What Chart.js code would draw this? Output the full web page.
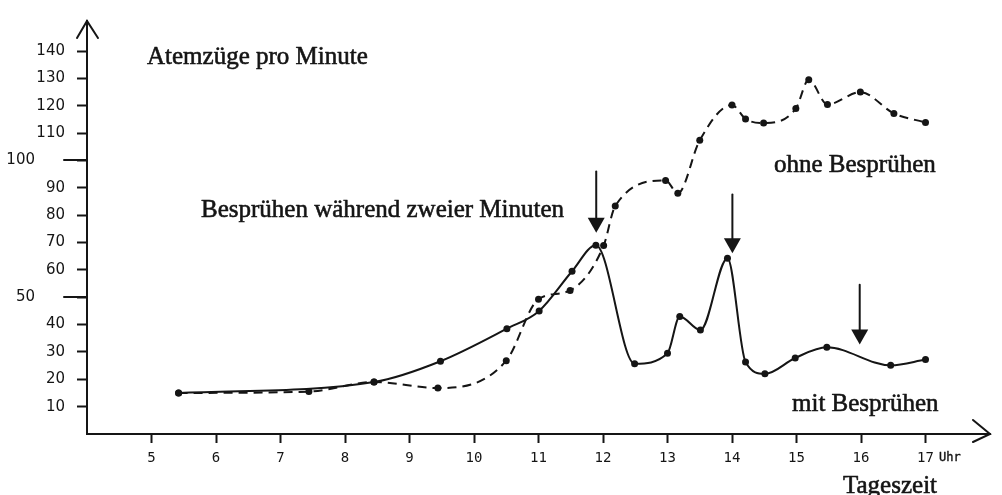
<!DOCTYPE html>
<html>
<head>
<meta charset="utf-8">
<script src="https://cdn.jsdelivr.net/npm/chart.js@4.4.1/dist/chart.umd.min.js"></script>
<style>
  html, body { margin: 0; padding: 0; background: #ffffff; }
  #wrap { width: 1002px; height: 495px; position: relative; }
</style>
</head>
<body>
<div id="wrap"><canvas id="c" width="1002" height="495"></canvas></div>
<script>
// ---- data ----
const xTickValues = [5, 6, 7, 8, 9, 10, 11, 12, 13, 14, 15, 16, 17];
const yTickValues = [10, 20, 30, 40, 50, 60, 70, 80, 90, 100, 110, 120, 130, 140];

const mitHours  = [5.42, 8.45, 9.48, 10.51, 11.01, 11.52, 11.89, 12.49, 13.0, 13.19, 13.51, 13.93, 14.21, 14.51, 14.98, 15.47, 16.46, 17.0];
const mitValues = [15, 19, 26.6, 38.5, 45, 59.5, 69, 25.7, 29.5, 43, 38, 64.3, 26.3, 22, 27.8, 31.7, 25.1, 27.2];

const ohneHours  = [5.42, 7.44, 8.45, 9.44, 10.5, 11.0, 11.49, 12.01, 12.19, 12.97, 13.16, 13.5, 14.0, 14.21, 14.49, 14.99, 15.19, 15.48, 15.99, 16.51, 17.0];
const ohneValues = [15, 15.5, 19, 16.8, 26.8, 49.3, 52.5, 68.9, 83.4, 92.7, 88, 107.4, 120.3, 115.2, 113.7, 119, 129.5, 120.5, 125, 117.2, 113.9];

// arrows: [hour, top value, tip value]
const sprayArrows = [[11.895, 96, 73.6], [14.006, 87.6, 66.1], [15.98, 54.6, 32.7]];

const INK = '#151515';
const toPts = (xs, ys) => xs.map((x, i) => ({ x: x, y: ys[i] }));

const decor = {
  id: 'decor',
  afterDraw(chart) {
    const ctx = chart.ctx;
    const xs = chart.scales.x, ys = chart.scales.y;
    const area = chart.chartArea;
    ctx.save();
    ctx.strokeStyle = INK;
    ctx.fillStyle = INK;
    ctx.lineWidth = 2;
    ctx.lineCap = 'round';

    // y axis arrow head
    const ax = area.left, ay = area.top;
    ctx.beginPath();
    ctx.moveTo(ax - 10, ay + 17); ctx.lineTo(ax, ay); ctx.lineTo(ax + 11, ay + 17);
    ctx.stroke();
    // x axis arrow head
    const bx = area.right, by = area.bottom;
    ctx.beginPath();
    ctx.moveTo(bx - 17, by - 14); ctx.lineTo(bx, by); ctx.lineTo(bx - 17, by + 8);
    ctx.stroke();

    // long ticks at 50 and 100
    [50, 100].forEach(v => {
      const py = Math.round(ys.getPixelForValue(v));
      ctx.beginPath();
      ctx.moveTo(area.left - 23, py); ctx.lineTo(area.left, py);
      ctx.stroke();
    });

    // arrows
    sprayArrows.forEach(a => {
      const px = xs.getPixelForValue(a[0]);
      const top = ys.getPixelForValue(a[1]);
      const tip = ys.getPixelForValue(a[2]);
      ctx.lineWidth = 2;
      ctx.beginPath();
      ctx.moveTo(px, top); ctx.lineTo(px, tip - 12);
      ctx.stroke();
      ctx.beginPath();
      ctx.moveTo(px - 8.5, tip - 15); ctx.lineTo(px + 8.5, tip - 15); ctx.lineTo(px, tip);
      ctx.closePath();
      ctx.fill();
    });

    // texts (slightly thickened like the scanned print)
    ctx.textAlign = 'left';
    ctx.textBaseline = 'alphabetic';
    ctx.font = '25px "Liberation Serif", "Times New Roman", serif';
    ctx.lineWidth = 0.6;
    ctx.lineJoin = 'round';
    const txt = (s, x, y) => { ctx.fillText(s, x, y); ctx.strokeText(s, x, y); };
    txt('Atemzüge pro Minute', 147, 64);
    txt('Besprühen während zweier Minuten', 201, 217);
    txt('ohne Besprühen', 774, 172);
    txt('mit Besprühen', 792, 411);
    txt('Tageszeit', 843, 493);

    ctx.font = '12px "DejaVu Sans Mono", monospace';
    ctx.textBaseline = 'middle';
    ctx.lineWidth = 0.4;
    txt('Uhr', 939, 458);
    ctx.restore();
  }
};

new Chart(document.getElementById('c'), {
  type: 'line',
  data: {
    datasets: [
      {
        label: 'mit Besprühen',
        data: toPts(mitHours, mitValues),
        borderColor: INK,
        backgroundColor: INK,
        borderWidth: 2,
        pointRadius: 3.5,
        pointBorderWidth: 0,
        pointBackgroundColor: INK,
        cubicInterpolationMode: 'monotone',
        fill: false
      },
      {
        label: 'ohne Besprühen',
        data: toPts(ohneHours, ohneValues),
        borderColor: INK,
        backgroundColor: INK,
        borderWidth: 2,
        borderDash: [9, 6],
        pointRadius: 3.5,
        pointBorderWidth: 0,
        pointBackgroundColor: INK,
        cubicInterpolationMode: 'monotone',
        fill: false
      }
    ]
  },
  options: {
    responsive: false,
    animation: false,
    events: [],
    layout: { padding: { top: 13, right: 12, left: 0, bottom: 0 } },
    plugins: { legend: { display: false }, tooltip: { enabled: false }, title: { display: false } },
    scales: {
      x: {
        type: 'linear',
        min: 4,
        max: 18,
        afterBuildTicks: s => { s.ticks = xTickValues.map(v => ({ value: v })); },
        afterFit: s => { s.height = 61; },
        grid: { drawOnChartArea: false, drawTicks: true, tickLength: 9, tickWidth: 2, tickColor: INK },
        border: { display: true, width: 2, color: INK },
        ticks: {
          color: INK,
          padding: 7,
          maxRotation: 0,
          autoSkip: false,
          font: { family: '"DejaVu Sans Mono", monospace', size: 14 },
          callback: v => String(v)
        }
      },
      y: {
        type: 'linear',
        min: 0,
        max: 151,
        afterBuildTicks: s => { s.ticks = yTickValues.map(v => ({ value: v })); },
        afterFit: s => { s.width = 87; },
        grid: { drawOnChartArea: false, drawTicks: true, tickLength: 10, tickWidth: 2, tickColor: INK },
        border: { display: true, width: 2, color: INK },
        ticks: {
          color: INK,
          padding: 12,
          autoSkip: false,
          font: { family: '"DejaVu Sans", sans-serif', size: 15 },
          callback: v => (v === 50 || v === 100) ? String(v) + '\u2002\u2002\u2002\u2002' : String(v)
        }
      }
    }
  },
  plugins: [decor]
});
</script>
</body>
</html>
